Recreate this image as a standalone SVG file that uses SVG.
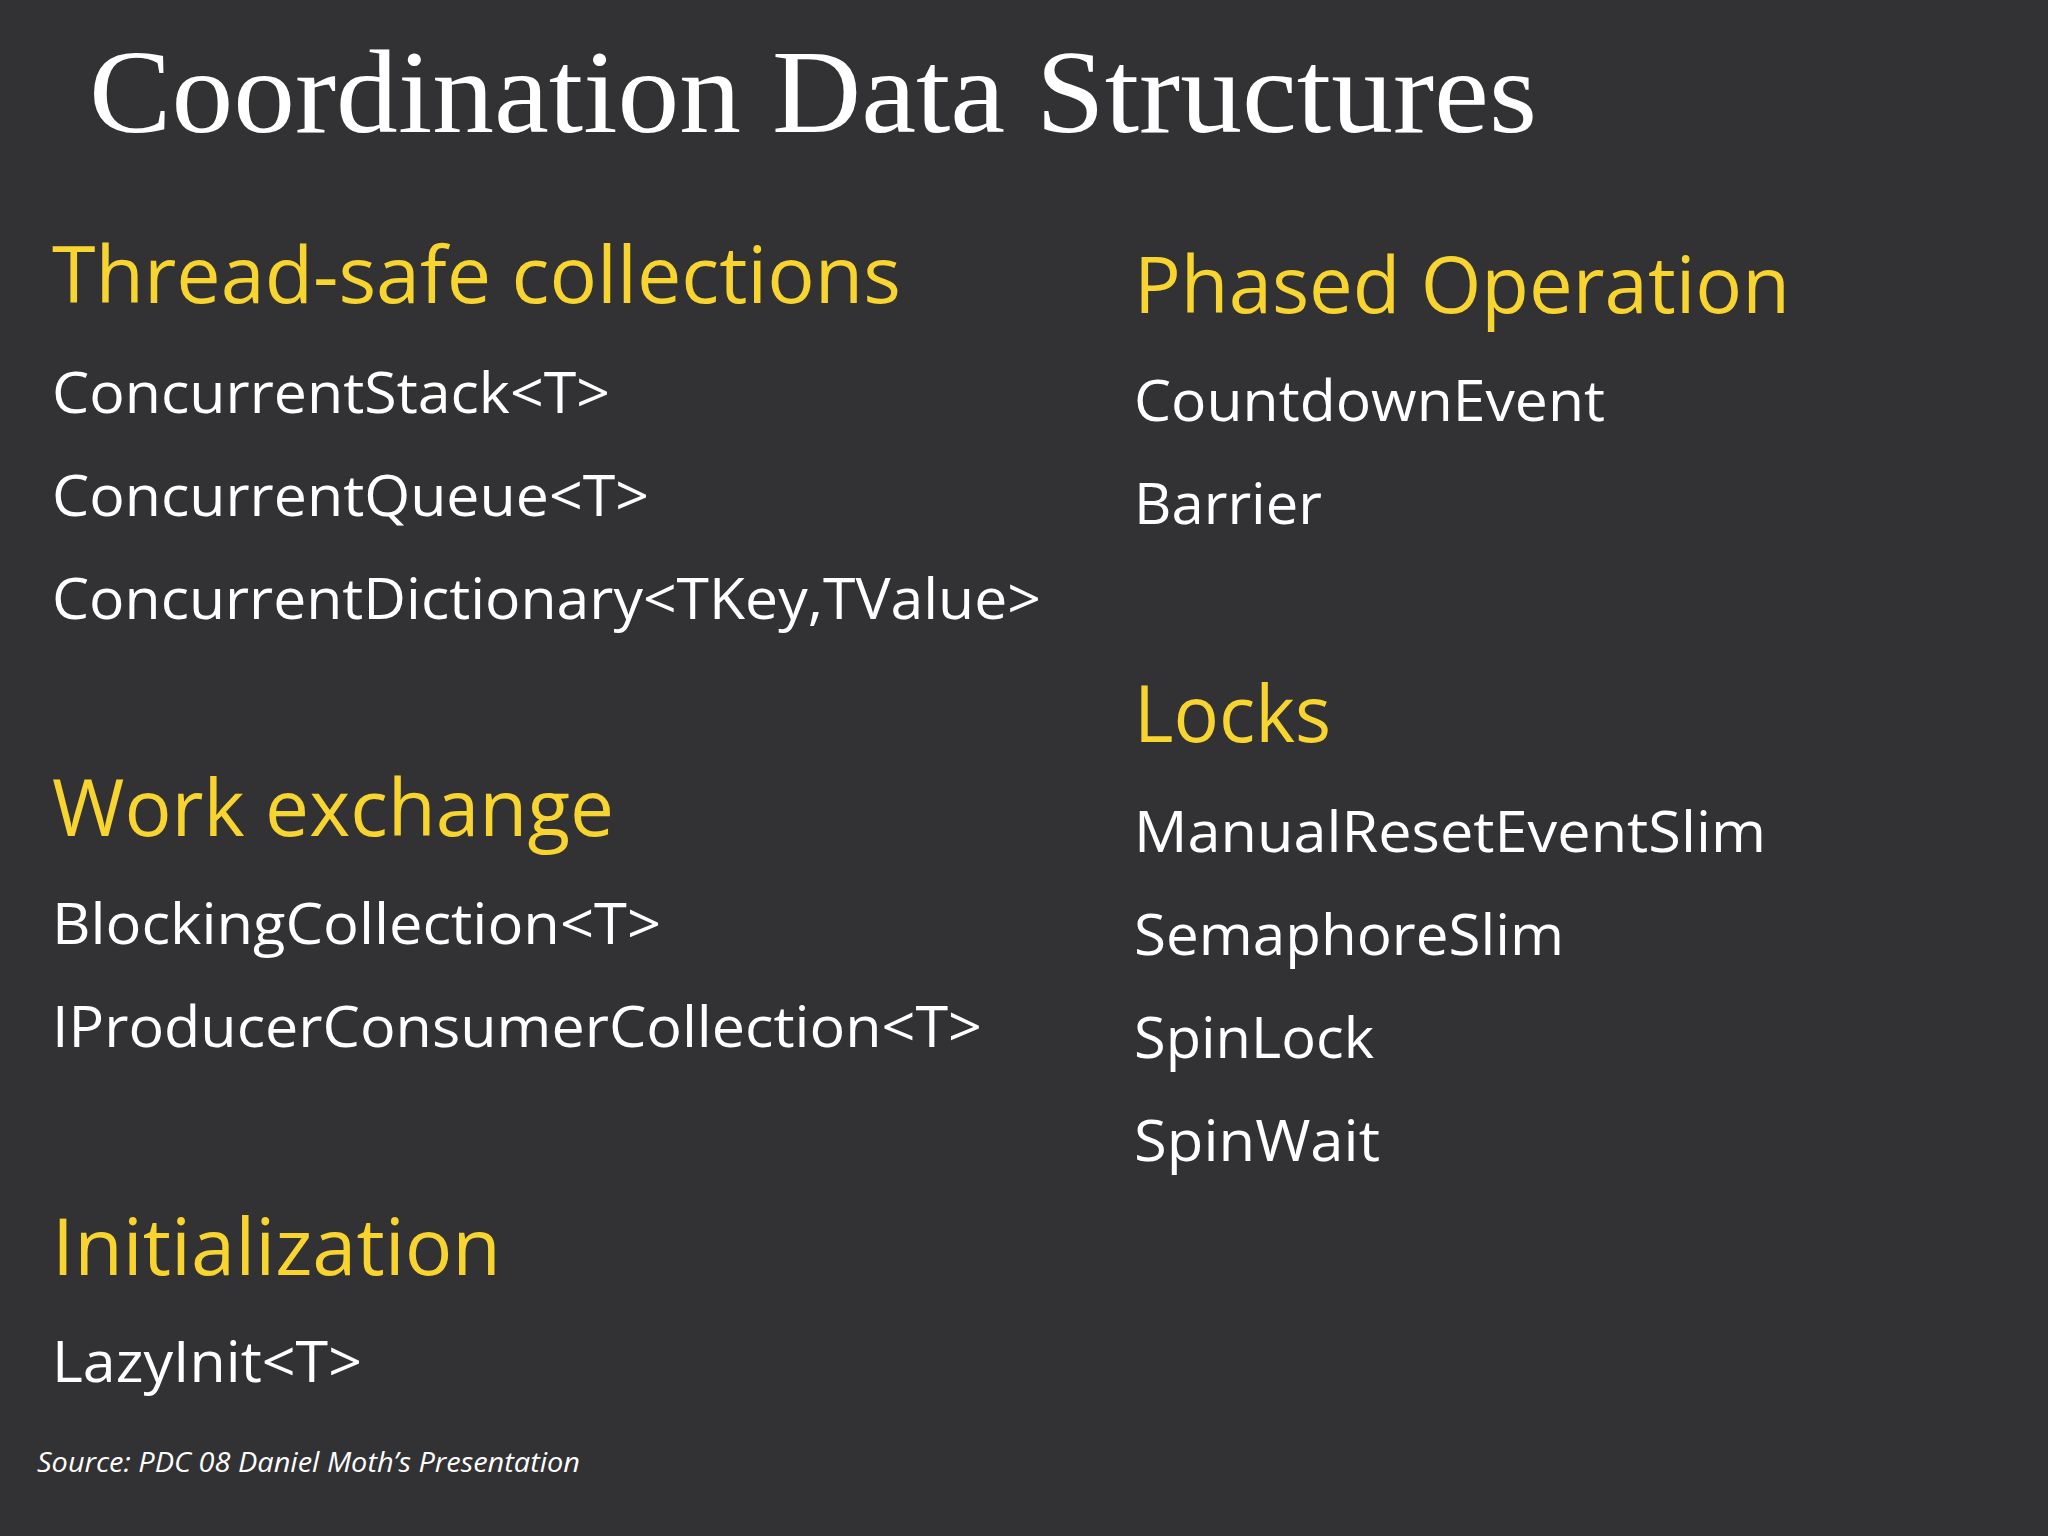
<svg xmlns="http://www.w3.org/2000/svg" width="2048" height="1536" viewBox="0 0 2048 1536">
<style>
.t{font-family:"Liberation Serif",serif;font-size:118px;fill:#fff}
.h{font-family:"Open Sans","Liberation Sans",sans-serif;font-size:78px;fill:#f7d42f}
.i{font-family:"Open Sans","Liberation Sans",sans-serif;font-size:56px;fill:#fff}
.s{font-family:"Open Sans","Liberation Sans",sans-serif;font-size:27px;font-style:italic;fill:#fff}
</style>
<rect width="2048" height="1536" fill="#323234"/>
<text class="t" x="89" y="132" textLength="1448" lengthAdjust="spacingAndGlyphs">Coordination Data Structures</text>
<g id="left">
<text class="h" x="52" y="303" textLength="849" lengthAdjust="spacingAndGlyphs">Thread-safe collections</text>
<text class="i" x="52" y="413" textLength="558" lengthAdjust="spacingAndGlyphs">ConcurrentStack&lt;T&gt;</text>
<text class="i" x="52" y="516" textLength="597" lengthAdjust="spacingAndGlyphs">ConcurrentQueue&lt;T&gt;</text>
<text class="i" x="52" y="619" textLength="989" lengthAdjust="spacingAndGlyphs">ConcurrentDictionary&lt;TKey,TValue&gt;</text>
<text class="h" x="52" y="836" textLength="562" lengthAdjust="spacingAndGlyphs">Work exchange</text>
<text class="i" x="52" y="944" textLength="609" lengthAdjust="spacingAndGlyphs">BlockingCollection&lt;T&gt;</text>
<text class="i" x="52" y="1047" textLength="930" lengthAdjust="spacingAndGlyphs">IProducerConsumerCollection&lt;T&gt;</text>
<text class="h" x="52" y="1275" textLength="449" lengthAdjust="spacingAndGlyphs">Initialization</text>
<text class="i" x="52" y="1382" textLength="310" lengthAdjust="spacingAndGlyphs">LazyInit&lt;T&gt;</text>
</g>
<g id="right">
<text class="h" x="1134" y="313" textLength="656" lengthAdjust="spacingAndGlyphs">Phased Operation</text>
<text class="i" x="1134" y="421" textLength="471" lengthAdjust="spacingAndGlyphs">CountdownEvent</text>
<text class="i" x="1134" y="524" textLength="188" lengthAdjust="spacingAndGlyphs">Barrier</text>
<text class="h" x="1134" y="742" textLength="197" lengthAdjust="spacingAndGlyphs">Locks</text>
<text class="i" x="1134" y="852" textLength="632" lengthAdjust="spacingAndGlyphs">ManualResetEventSlim</text>
<text class="i" x="1134" y="955" textLength="430" lengthAdjust="spacingAndGlyphs">SemaphoreSlim</text>
<text class="i" x="1134" y="1058" textLength="240" lengthAdjust="spacingAndGlyphs">SpinLock</text>
<text class="i" x="1134" y="1161" textLength="246" lengthAdjust="spacingAndGlyphs">SpinWait</text>
</g>
<text class="s" x="37" y="1472" textLength="543" lengthAdjust="spacingAndGlyphs">Source: PDC 08 Daniel Moth’s Presentation</text>
</svg>
